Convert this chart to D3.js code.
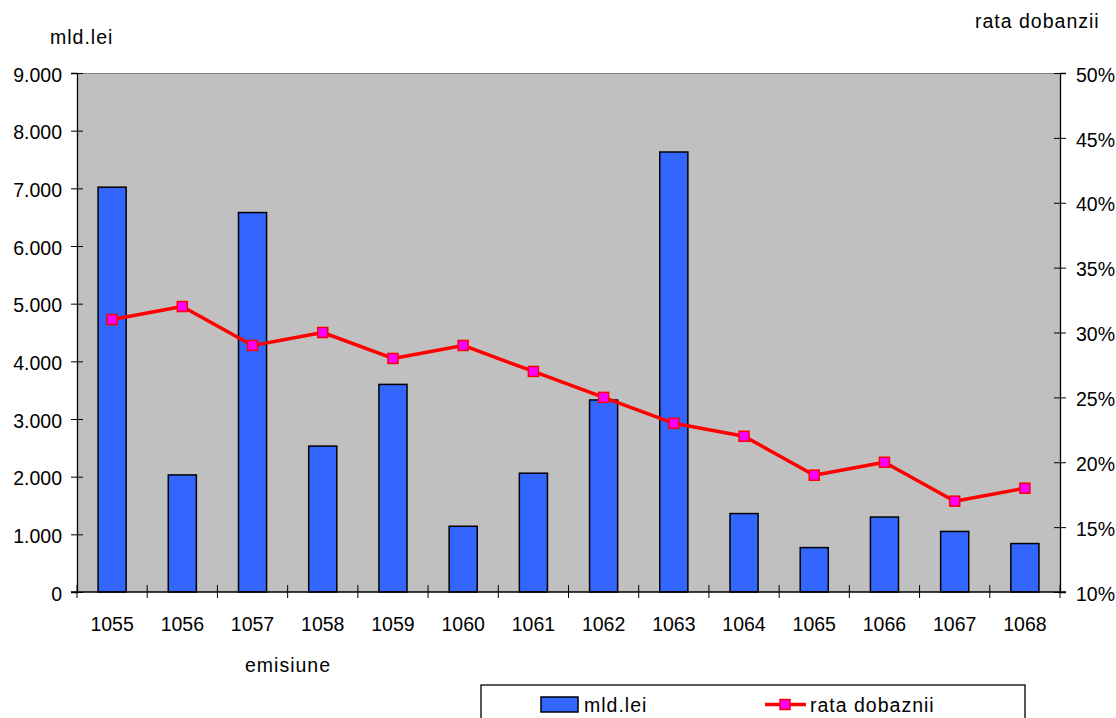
<!DOCTYPE html>
<html>
<head>
<meta charset="utf-8">
<script src="https://cdn.jsdelivr.net/npm/d3@7"></script>
<style>
	body { margin: 0; background: #fff; }
	text { font-family: 'Liberation Sans', Arial, sans-serif; fill: #000; }
	.num { font-size: 19.5px; }
	.word { font-size: 19.5px; letter-spacing: 1px; }
</style>
</head>
<body>
<div id="vis"></div>
<script>
var categories = ['1055', '1056', '1057', '1058', '1059', '1060', '1061', '1062', '1063', '1064', '1065', '1066', '1067', '1068'];
var mldLei = [7020, 2030, 6580, 2530, 3600, 1140, 2060, 3330, 7630, 1360, 770, 1300, 1050, 840];
var rataDobanzii = [0.31, 0.32, 0.29, 0.30, 0.28, 0.29, 0.27, 0.25, 0.23, 0.22, 0.19, 0.20, 0.17, 0.18];
var leftTicks = [0, 1000, 2000, 3000, 4000, 5000, 6000, 7000, 8000, 9000];
var rightTicks = [0.10, 0.15, 0.20, 0.25, 0.30, 0.35, 0.40, 0.45, 0.50];

var width = 1116,
	height = 718;

var margin = { left: 77, top: 73, right: 56, bottom: 126 };

var drawWidth = width - margin.left - margin.right,
	drawHeight = height - margin.top - margin.bottom;

var svg = d3.select('#vis')
	.append('svg')
	.attr('width', width)
	.attr('height', height);

var g = svg.append('g')
	.attr('transform', 'translate(' + margin.left + ',' + margin.top + ')');

var x = d3.scaleBand()
	.domain(categories)
	.range([0, drawWidth])
	.paddingInner(0.6)
	.paddingOuter(0.3);

var y = d3.scaleLinear().domain([0, 9000]).range([drawHeight, 0]);
var y2 = d3.scaleLinear().domain([0.10, 0.50]).range([drawHeight, 0]);

var fmt = d3.formatLocale({ decimal: ',', thousands: '.', grouping: [3], currency: ['', ''] }).format(',');

// plot background
g.append('rect')
	.attr('width', drawWidth)
	.attr('height', drawHeight)
	.attr('fill', '#c0c0c0');

g.append('line')
	.attr('x1', 0).attr('x2', drawWidth)
	.attr('y1', 0.5).attr('y2', 0.5)
	.attr('stroke', '#808080');

// bars
g.append('g')
	.selectAll('rect')
	.data(mldLei)
	.enter().append('rect')
	.attr('x', function(d, i) { return x(categories[i]); })
	.attr('y', function(d) { return y(d); })
	.attr('width', x.bandwidth())
	.attr('height', function(d) { return drawHeight - y(d); })
	.attr('fill', '#3366ff')
	.attr('stroke', '#000')
	.attr('stroke-width', 1.5);

// left axis
var yAxis = g.append('g')
	.call(d3.axisLeft(y).tickValues(leftTicks).tickSize(6).tickPadding(9).tickFormat(fmt));
yAxis.attr('font-size', null);
yAxis.select('.domain').attr('stroke', '#000').attr('stroke-width', 1.3);
yAxis.selectAll('.tick line').attr('x1', 6).attr('x2', -6).attr('stroke', '#000');
yAxis.selectAll('.tick text').attr('class', 'num').attr('dy', '0.42em');

// right axis
var y2Axis = g.append('g')
	.attr('transform', 'translate(' + drawWidth + ',0)')
	.call(d3.axisRight(y2).tickValues(rightTicks).tickSize(6).tickPadding(10).tickFormat(d3.format('.0%')));
y2Axis.attr('font-size', null);
y2Axis.select('.domain').attr('stroke', '#000').attr('stroke-width', 1.3);
y2Axis.selectAll('.tick line').attr('x1', -6).attr('x2', 6).attr('stroke', '#000');
y2Axis.selectAll('.tick text').attr('class', 'num').attr('dy', '0.42em');

// bottom axis
var xAxis = g.append('g')
	.attr('transform', 'translate(0,' + drawHeight + ')');
xAxis.append('line')
	.attr('x1', -6).attr('x2', drawWidth + 6)
	.attr('stroke', '#000').attr('stroke-width', 1.3);
xAxis.selectAll('.ctick')
	.data(d3.range(categories.length + 1))
	.enter().append('line')
	.attr('class', 'ctick')
	.attr('x1', function(i) { return i * x.step(); })
	.attr('x2', function(i) { return i * x.step(); })
	.attr('y1', -7).attr('y2', 6)
	.attr('stroke', '#000');
xAxis.selectAll('.clabel')
	.data(categories)
	.enter().append('text')
	.attr('class', 'num')
	.attr('x', function(d) { return x(d) + x.bandwidth() / 2; })
	.attr('y', 39)
	.attr('text-anchor', 'middle')
	.text(function(d) { return d; });

// line series
var line = d3.line()
	.x(function(d, i) { return x(categories[i]) + x.bandwidth() / 2; })
	.y(function(d) { return y2(d); });

g.append('path')
	.datum(rataDobanzii)
	.attr('d', line)
	.attr('fill', 'none')
	.attr('stroke', '#ff0000')
	.attr('stroke-width', 3.5)
	.attr('stroke-linejoin', 'round');

g.append('g')
	.selectAll('rect')
	.data(rataDobanzii)
	.enter().append('rect')
	.attr('x', function(d, i) { return x(categories[i]) + x.bandwidth() / 2 - 5; })
	.attr('y', function(d) { return y2(d) - 5; })
	.attr('width', 10)
	.attr('height', 10)
	.attr('fill', '#ff00ff')
	.attr('stroke', '#ff0000')
	.attr('stroke-width', 1.5);

// titles
svg.append('text')
	.attr('class', 'word')
	.attr('x', 50).attr('y', 44)
	.text('mld.lei');

svg.append('text')
	.attr('class', 'word')
	.attr('x', 975).attr('y', 28)
	.text('rata dobanzii');

svg.append('text')
	.attr('class', 'word')
	.attr('x', 245).attr('y', 672)
	.text('emisiune');

// legend
var legend = svg.append('g')
	.attr('transform', 'translate(481,685)');

legend.append('rect')
	.attr('x', 0).attr('y', 0)
	.attr('width', 544).attr('height', 50)
	.attr('fill', '#fff')
	.attr('stroke', '#000')
	.attr('stroke-width', 1.3);

legend.append('rect')
	.attr('x', 60).attr('y', 12)
	.attr('width', 37).attr('height', 15)
	.attr('fill', '#3366ff')
	.attr('stroke', '#000')
	.attr('stroke-width', 1.5);

legend.append('text')
	.attr('class', 'word')
	.attr('x', 103).attr('y', 27)
	.text('mld.lei');

legend.append('line')
	.attr('x1', 284).attr('x2', 325)
	.attr('y1', 19.5).attr('y2', 19.5)
	.attr('stroke', '#ff0000')
	.attr('stroke-width', 3.5);

legend.append('rect')
	.attr('x', 299).attr('y', 14.5)
	.attr('width', 10).attr('height', 10)
	.attr('fill', '#ff00ff')
	.attr('stroke', '#ff0000')
	.attr('stroke-width', 1.5);

legend.append('text')
	.attr('class', 'word')
	.attr('x', 329).attr('y', 27)
	.text('rata dobaznii');
</script>
</body>
</html>
